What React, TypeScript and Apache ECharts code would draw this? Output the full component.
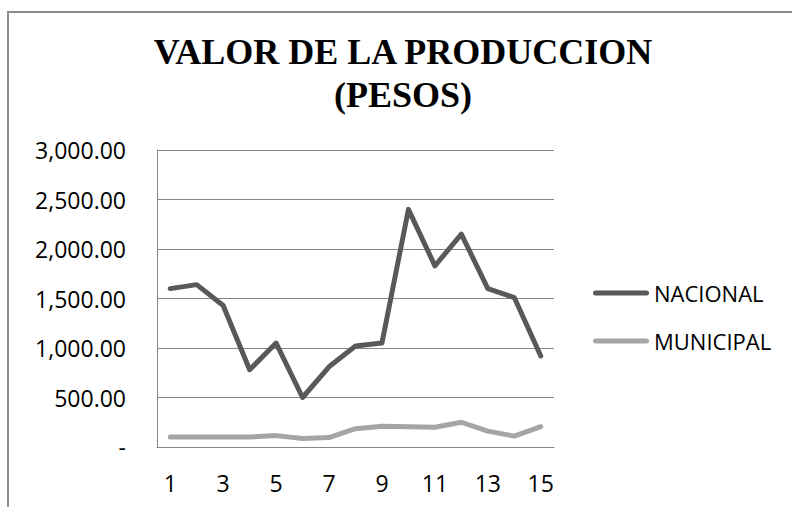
import React, { useEffect, useRef } from "react";
import * as echarts from "echarts";

const categories = ["1","2","3","4","5","6","7","8","9","10","11","12","13","14","15"];
const nacional = [1600, 1640, 1430, 780, 1050, 500, 810, 1020, 1050, 2400, 1830, 2150, 1600, 1510, 920];
const municipal = [100, 100, 100, 100, 115, 85, 95, 185, 210, 205, 200, 250, 160, 110, 205];
const seriesNames = ["NACIONAL", "MUNICIPAL"];
const titleText = "VALOR DE LA PRODUCCION\n(PESOS)";

function fmt(v: number): string {
  if (v === 0) return "-";
  return v.toLocaleString("en-US", { minimumFractionDigits: 2, maximumFractionDigits: 2 });
}

const legendIcon = "path://M2.5,0 H53.5 A2.5,2.5 0 0 1 53.5,5 H2.5 A2.5,2.5 0 0 1 2.5,0 Z";

export default function App() {
  const ref = useRef<HTMLDivElement>(null);
  useEffect(() => {
    const el = ref.current!;
    const chart = echarts.init(el, null, { renderer: "svg" });
    const labelFont = "'Open Sans', 'Noto Sans', sans-serif";
    chart.setOption({
      animation: false,
      backgroundColor: "#ffffff",
      title: {
        text: titleText,
        left: 403,
        textAlign: "center",
        top: 30,
        padding: 0,
        textStyle: {
          fontFamily: "'Liberation Serif', 'DejaVu Serif', serif",
          fontWeight: "bold",
          fontSize: 36,
          lineHeight: 43,
          color: "#000000",
        },
      },
      graphic: [
        {
          type: "rect",
          shape: { x: 8, y: 12, width: 820, height: 530 },
          style: { fill: "none", stroke: "#8c8c8c", lineWidth: 2 },
          silent: true,
          z: -10,
        },
      ],
      legend: {
        orient: "vertical",
        left: 593,
        top: 280,
        padding: 0,
        icon: legendIcon,
        itemWidth: 56,
        itemHeight: 5,
        itemGap: 22,
        data: seriesNames,
        textStyle: { fontFamily: labelFont, fontSize: 22, color: "#000000", lineHeight: 26 },
      },
      grid: { left: 157, right: 238, top: 150, bottom: 60 },
      xAxis: {
        type: "category",
        data: categories,
        boundaryGap: true,
        axisLine: { show: true, lineStyle: { color: "#868686", width: 1 } },
        axisTick: { show: false },
        axisLabel: {
          interval: 1,
          margin: 24,
          fontFamily: labelFont,
          fontSize: 23,
          color: "#000000",
        },
      },
      yAxis: {
        type: "value",
        min: 0,
        max: 3000,
        interval: 500,
        axisLine: { show: true, lineStyle: { color: "#868686", width: 1 } },
        axisTick: { show: false },
        splitLine: { show: true, lineStyle: { color: "#868686", width: 1 } },
        axisLabel: {
          margin: 31,
          fontFamily: labelFont,
          fontSize: 23,
          color: "#000000",
          formatter: (v: number) => fmt(v),
        },
      },
      series: [
        {
          name: seriesNames[0],
          type: "line",
          data: nacional,
          symbol: "none",
          lineStyle: { color: "#595959", width: 5, cap: "round", join: "round" },
          itemStyle: { color: "#595959" },
        },
        {
          name: seriesNames[1],
          type: "line",
          data: municipal,
          symbol: "none",
          lineStyle: { color: "#a5a5a5", width: 5, cap: "round", join: "round" },
          itemStyle: { color: "#a5a5a5" },
        },
      ],
    });
    return () => chart.dispose();
  }, []);
  return (
    <div
      ref={ref}
      style={{ position: "absolute", left: 0, top: 0, width: 792, height: 507 }}
    />
  );
}
